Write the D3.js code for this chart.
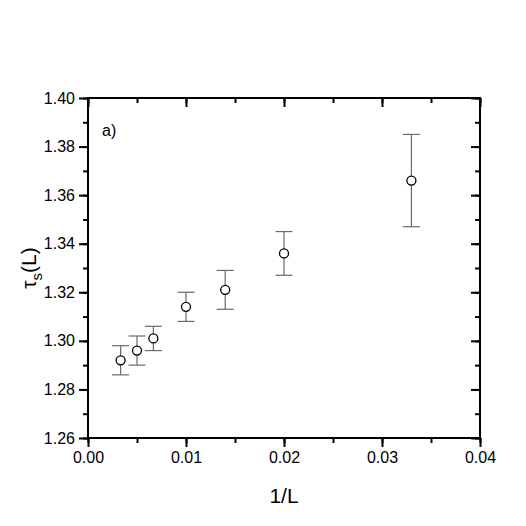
<!DOCTYPE html>
<html>
<head>
<meta charset="utf-8">
<script src="https://cdn.jsdelivr.net/npm/d3@7"></script>
<style>
  body { margin: 0; background: #fff; }
  svg text { font-family: "Liberation Sans", Arial, sans-serif; }
</style>
</head>
<body>
<script>
// data
var invL   = [0.00333, 0.005, 0.00667, 0.010, 0.0140, 0.020, 0.0330];
var tau    = [1.292, 1.296, 1.301, 1.314, 1.321, 1.336, 1.366];
var tauErr = [0.006, 0.006, 0.005, 0.006, 0.008, 0.009, 0.019];
var xTicks = [0.00, 0.01, 0.02, 0.03, 0.04];
var yTicks = [1.26, 1.28, 1.30, 1.32, 1.34, 1.36, 1.38, 1.40];

var data = invL.map(function (x, i) { return {x: x, y: tau[i], e: tauErr[i]}; });

var margin = {top: 98, right: 46, bottom: 88, left: 88}
  , width = 526 - margin.left - margin.right
  , height = 526 - margin.top - margin.bottom;

var svg = d3.select("body").append("svg")
    .attr("width", 526)
    .attr("height", 526)
  .append("g")
    .attr("transform", "translate(" + margin.left + "," + margin.top + ")");

var xScale = d3.scaleLinear().domain([0, 0.04]).range([0, width]);
var yScale = d3.scaleLinear().domain([1.26, 1.40]).range([height, 0]);

var xMinor = d3.range(0, 0.0401, 0.005);
var yMinor = d3.range(1.26, 1.4001, 0.01);

// minor ticks (no labels)
svg.append("g").attr("transform", "translate(0," + height + ")")
    .call(d3.axisBottom(xScale).tickValues(xMinor).tickSize(5).tickFormat(""));
svg.append("g")
    .call(d3.axisLeft(yScale).tickValues(yMinor).tickSize(5).tickFormat(""));
svg.append("g")
    .call(d3.axisTop(xScale).tickValues(xMinor).tickSize(-5).tickFormat(""));
svg.append("g").attr("transform", "translate(" + width + ",0)")
    .call(d3.axisRight(yScale).tickValues(yMinor).tickSize(-5).tickFormat(""));

// major ticks
svg.append("g").attr("class", "x axis")
    .attr("transform", "translate(0," + height + ")")
    .call(d3.axisBottom(xScale).tickValues(xTicks).tickSize(9).tickPadding(5)
      .tickFormat(d3.format(".2f")));
svg.append("g").attr("class", "y axis")
    .call(d3.axisLeft(yScale).tickValues(yTicks).tickSize(9).tickPadding(4)
      .tickFormat(d3.format(".2f")));
svg.append("g")
    .call(d3.axisTop(xScale).tickValues(xTicks).tickSize(-9).tickFormat(""));
svg.append("g").attr("transform", "translate(" + width + ",0)")
    .call(d3.axisRight(yScale).tickValues(yTicks).tickSize(-9).tickFormat(""));

svg.selectAll(".domain").remove();
svg.selectAll(".tick line").attr("stroke", "#000").attr("stroke-width", 2);
svg.selectAll(".tick text").attr("fill", "#000").style("font-size", "16px");

// frame
svg.append("rect")
    .attr("width", width).attr("height", height)
    .attr("fill", "none").attr("stroke", "#000").attr("stroke-width", 2);

// error bars
var eb = svg.selectAll(".err").data(data).enter().append("g").attr("class", "err")
    .attr("stroke", "#6a6a6a").attr("stroke-width", 1.2);
eb.append("line")
    .attr("x1", function (d) { return xScale(d.x); })
    .attr("x2", function (d) { return xScale(d.x); })
    .attr("y1", function (d) { return yScale(d.y + d.e); })
    .attr("y2", function (d) { return yScale(d.y - d.e); });
eb.append("line")
    .attr("x1", function (d) { return xScale(d.x) - 8.5; })
    .attr("x2", function (d) { return xScale(d.x) + 8.5; })
    .attr("y1", function (d) { return yScale(d.y + d.e); })
    .attr("y2", function (d) { return yScale(d.y + d.e); });
eb.append("line")
    .attr("x1", function (d) { return xScale(d.x) - 8.5; })
    .attr("x2", function (d) { return xScale(d.x) + 8.5; })
    .attr("y1", function (d) { return yScale(d.y - d.e); })
    .attr("y2", function (d) { return yScale(d.y - d.e); });

// points
svg.selectAll(".dot").data(data).enter().append("circle")
    .attr("class", "dot")
    .attr("cx", function (d) { return xScale(d.x); })
    .attr("cy", function (d) { return yScale(d.y); })
    .attr("r", 4.5)
    .attr("fill", "#fff")
    .attr("stroke", "#000")
    .attr("stroke-width", 1.3);

// panel label
svg.append("text")
    .attr("x", 14).attr("y", 38)
    .style("font-size", "16px")
    .text("a)");

// axis titles
svg.append("text")
    .attr("x", width / 2).attr("y", height + 65)
    .attr("text-anchor", "middle")
    .style("font-size", "21px")
    .text("1/L");

var yt = svg.append("text")
    .attr("transform", "translate(-52," + (height / 2) + ") rotate(-90)")
    .attr("text-anchor", "middle")
    .style("font-size", "21px");
yt.append("tspan").text("\u03C4");
yt.append("tspan").attr("dy", 6).style("font-size", "15px").text("s");
yt.append("tspan").attr("dy", -6).text("(L)");
</script>
</body>
</html>
